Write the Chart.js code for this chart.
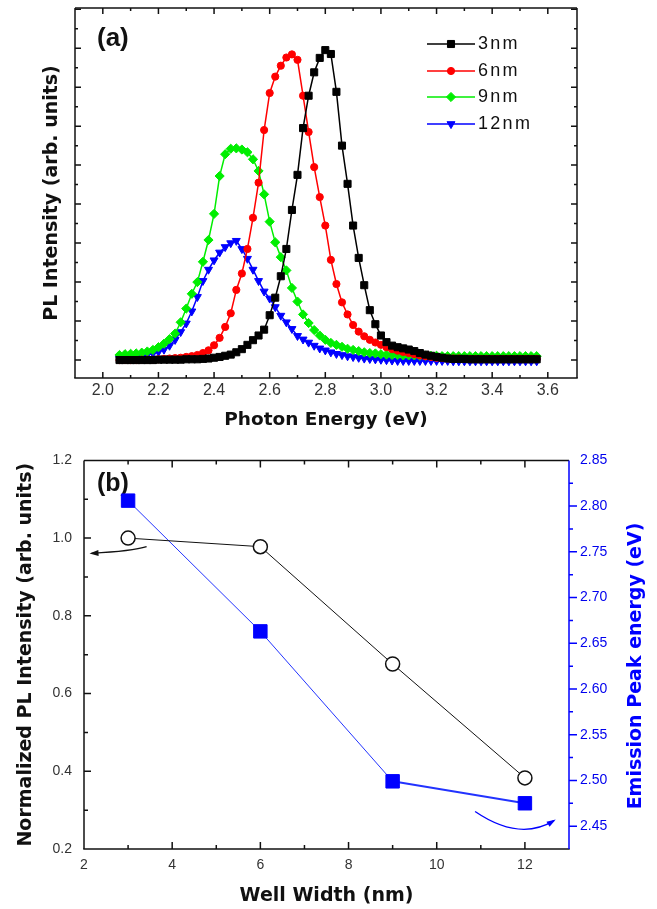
<!DOCTYPE html>
<html>
<head>
<meta charset="utf-8">
<script src="https://cdn.jsdelivr.net/npm/chart.js@4.4.1/dist/chart.umd.min.js"></script>
<style>
    html, body { margin: 0; padding: 0; background: #fff; }
    #wrap { position: relative; width: 657px; height: 909px; }
    canvas { position: absolute; left: 0; }
    #spectraChart { top: 0; }
    #wellChart { top: 440px; }
</style>
</head>
<body>
<div id="wrap">
    <canvas id="spectraChart" width="657" height="440"></canvas>
    <canvas id="wellChart" width="657" height="469"></canvas>
</div>
<script>
// ---- (a) PL spectra ----
const energy = [
    2.06, 2.08, 2.10, 2.12, 2.14, 2.16, 2.18, 2.20, 2.22, 2.24,
    2.26, 2.28, 2.30, 2.32, 2.34, 2.36, 2.38, 2.40, 2.42, 2.44,
    2.46, 2.48, 2.50, 2.52, 2.54, 2.56, 2.58, 2.60, 2.62, 2.64,
    2.66, 2.68, 2.70, 2.72, 2.74, 2.76, 2.78, 2.80, 2.82, 2.84,
    2.86, 2.88, 2.90, 2.92, 2.94, 2.96, 2.98, 3.00, 3.02, 3.04,
    3.06, 3.08, 3.10, 3.12, 3.14, 3.16, 3.18, 3.20, 3.22, 3.24,
    3.26, 3.28, 3.30, 3.32, 3.34, 3.36, 3.38, 3.40, 3.42, 3.44,
    3.46, 3.48, 3.50, 3.52, 3.54, 3.56
];
const pl3nm = [
    0.00, 0.00, 0.00, 0.00, 0.00, 0.00, 0.00, 0.01, 0.01, 0.01,
    0.01, 0.01, 0.02, 0.02, 0.02, 0.03, 0.04, 0.06, 0.08, 0.11,
    0.14, 0.20, 0.28, 0.39, 0.51, 0.63, 0.78, 1.15, 1.60, 2.15,
    2.85, 3.85, 4.75, 5.95, 6.78, 7.38, 7.75, 7.95, 7.85, 6.88,
    5.50, 4.52, 3.45, 2.62, 1.92, 1.28, 0.92, 0.63, 0.46, 0.37,
    0.33, 0.30, 0.27, 0.23, 0.18, 0.14, 0.11, 0.08, 0.06, 0.04,
    0.03, 0.03, 0.03, 0.02, 0.02, 0.02, 0.02, 0.02, 0.02, 0.02,
    0.02, 0.02, 0.02, 0.02, 0.02, 0.02
];
const pl6nm = [
    0.00, 0.00, 0.00, 0.00, 0.01, 0.01, 0.01, 0.02, 0.03, 0.04,
    0.05, 0.06, 0.08, 0.10, 0.13, 0.18, 0.25, 0.38, 0.57, 0.85,
    1.20, 1.80, 2.22, 2.85, 3.65, 4.55, 5.90, 6.85, 7.27, 7.55,
    7.76, 7.84, 7.70, 6.78, 5.85, 4.95, 4.18, 3.45, 2.57, 1.95,
    1.48, 1.17, 0.90, 0.73, 0.61, 0.52, 0.45, 0.39, 0.33, 0.28,
    0.24, 0.21, 0.18, 0.15, 0.12, 0.10, 0.08, 0.06, 0.05, 0.04,
    0.04, 0.04, 0.03, 0.03, 0.03, 0.03, 0.03, 0.03, 0.03, 0.03,
    0.03, 0.03, 0.03, 0.03, 0.03, 0.03
];
const pl9nm = [
    0.13, 0.15, 0.16, 0.17, 0.19, 0.22, 0.26, 0.33, 0.42, 0.54,
    0.68, 0.97, 1.32, 1.70, 2.00, 2.52, 3.08, 3.75, 4.72, 5.28,
    5.42, 5.43, 5.40, 5.33, 5.15, 4.85, 4.25, 3.55, 3.02, 2.64,
    2.30, 1.85, 1.50, 1.17, 0.95, 0.77, 0.63, 0.52, 0.44, 0.39,
    0.34, 0.29, 0.26, 0.23, 0.20, 0.18, 0.17, 0.15, 0.14, 0.13,
    0.13, 0.12, 0.12, 0.12, 0.11, 0.11, 0.11, 0.11, 0.10, 0.10,
    0.10, 0.10, 0.10, 0.10, 0.10, 0.10, 0.10, 0.10, 0.10, 0.10,
    0.10, 0.10, 0.10, 0.10, 0.10, 0.10
];
const pl12nm = [
    0.04, 0.06, 0.08, 0.10, 0.12, 0.14, 0.17, 0.21, 0.27, 0.37,
    0.52, 0.72, 0.94, 1.25, 1.62, 2.03, 2.32, 2.56, 2.76, 2.90,
    3.00, 3.06, 2.85, 2.60, 2.32, 2.03, 1.76, 1.58, 1.36, 1.14,
    0.97, 0.80, 0.62, 0.53, 0.45, 0.37, 0.30, 0.25, 0.20, 0.16,
    0.13, 0.10, 0.08, 0.06, 0.04, 0.03, 0.02, 0.01, 0.00, -0.01,
    -0.02, -0.02, -0.02, -0.02, -0.02, -0.02, -0.02, -0.02, -0.02, -0.02,
    -0.03, -0.03, -0.03, -0.03, -0.03, -0.03, -0.03, -0.03, -0.03, -0.03,
    -0.03, -0.03, -0.03, -0.03, -0.03, -0.03
];
const seriesLabels = ['3nm', '6nm', '9nm', '12nm'];
const energyTicks = [2.0, 2.2, 2.4, 2.6, 2.8, 3.0, 3.2, 3.4, 3.6];
const plTicks = [0, 1, 2, 3, 4, 5, 6, 7, 8, 9];

// ---- (b) well width dependence ----
const wellWidth = [3, 6, 9, 12];
const normIntensity = [1.0, 0.978, 0.676, 0.383];
const peakEnergy = [2.806, 2.663, 2.499, 2.475];
const widthTicks = [2, 4, 6, 8, 10, 12];
const intensityTicks = [0.2, 0.4, 0.6, 0.8, 1.0, 1.2];
const peakTicks = [2.45, 2.50, 2.55, 2.60, 2.65, 2.70, 2.75, 2.80, 2.85];

const FONT = '"Liberation Sans", Arial, sans-serif';
const TITLE_FONT = '"DejaVu Sans", Verdana, sans-serif';

const toPoints = function (xs, ys) {
    return xs.map(function (x, i) { return { x: x, y: ys[i] }; });
};
const fixedTicks = function (values) {
    return function (scale) { scale.ticks = values.map(function (v) { return { value: v }; }); };
};
const fixedWidth = function (w) { return function (scale) { scale.width = w; }; };
const fixedHeight = function (h) { return function (scale) { scale.height = h; }; };

// frame lines plus Origin-style tick marks (majors at the ticks, minors halfway)
const frameTicks = {
    id: 'frameTicks',
    afterDraw(chart, args, opts) {
        const ctx = chart.ctx;
        const a = chart.chartArea;
        ctx.save();
        ctx.lineCap = 'square';
        opts.sides.forEach(function (side) {
            const scale = chart.scales[side.scale];
            const horizontal = side.edge === 'top' || side.edge === 'bottom';
            ctx.strokeStyle = side.color;
            ctx.lineWidth = 1.5;
            ctx.beginPath();
            if (side.edge === 'left') { ctx.moveTo(a.left, a.top); ctx.lineTo(a.left, a.bottom); }
            if (side.edge === 'right') { ctx.moveTo(a.right, a.top); ctx.lineTo(a.right, a.bottom); }
            if (side.edge === 'top') { ctx.moveTo(a.left, a.top); ctx.lineTo(a.right, a.top); }
            if (side.edge === 'bottom') { ctx.moveTo(a.left, a.bottom); ctx.lineTo(a.right, a.bottom); }
            ctx.stroke();

            const majors = scale.ticks.map(function (t) { return t.value; });
            const marks = majors.map(function (v) { return [v, side.major]; });
            for (let i = 0; i < majors.length - 1; i++) {
                marks.push([(majors[i] + majors[i + 1]) / 2, side.minor]);
            }
            const sign = side.outward ? -1 : 1;
            ctx.lineCap = 'butt';
            ctx.beginPath();
            marks.forEach(function (m) {
                const p = scale.getPixelForValue(m[0]);
                if (horizontal && (p < a.left + 1 || p > a.right - 1)) return;
                if (!horizontal && (p < a.top + 1 || p > a.bottom - 1)) return;
                const len = m[1] * sign;
                if (side.edge === 'bottom') { ctx.moveTo(p, a.bottom); ctx.lineTo(p, a.bottom - len); }
                if (side.edge === 'top') { ctx.moveTo(p, a.top); ctx.lineTo(p, a.top + len); }
                if (side.edge === 'left') { ctx.moveTo(a.left, p); ctx.lineTo(a.left + len, p); }
                if (side.edge === 'right') { ctx.moveTo(a.right, p); ctx.lineTo(a.right - len, p); }
            });
            ctx.stroke();
        });
        ctx.restore();
    }
};

// panel letters, the rotated right title and the little curved arrows
const notes = {
    id: 'notes',
    beforeDatasetsDraw(chart, args, opts) {
        const ctx = chart.ctx;
        (opts.texts || []).forEach(function (t) {
            ctx.save();
            ctx.translate(t.x, t.y);
            if (t.rotate) ctx.rotate(t.rotate);
            ctx.font = t.font;
            ctx.fillStyle = t.color;
            ctx.textAlign = t.align || 'left';
            ctx.textBaseline = 'middle';
            ctx.fillText(t.text, 0, 0);
            ctx.restore();
        });
    },
    afterDatasetsDraw(chart, args, opts) {
        const ctx = chart.ctx;
        (opts.arrows || []).forEach(function (arr) {
            const xs = chart.scales.x;
            const ys = chart.scales[arr.yScale];
            const p = arr.pts.map(function (q) { return [xs.getPixelForValue(q[0]), ys.getPixelForValue(q[1])]; });
            // control point so the curve goes through the middle point
            const c = [2 * p[1][0] - (p[0][0] + p[2][0]) / 2, 2 * p[1][1] - (p[0][1] + p[2][1]) / 2];
            ctx.save();
            ctx.strokeStyle = arr.color;
            ctx.fillStyle = arr.color;
            ctx.lineWidth = 1.3;
            ctx.beginPath();
            ctx.moveTo(p[0][0], p[0][1]);
            ctx.quadraticCurveTo(c[0], c[1], p[2][0], p[2][1]);
            ctx.stroke();
            const ang = Math.atan2(p[2][1] - c[1], p[2][0] - c[0]);
            ctx.translate(p[2][0], p[2][1]);
            ctx.rotate(ang);
            ctx.beginPath();
            ctx.moveTo(2, 0);
            ctx.lineTo(-7, -3);
            ctx.lineTo(-7, 3);
            ctx.closePath();
            ctx.fill();
            ctx.restore();
        });
    }
};

// Origin-like legend: short line with the marker in the middle
const lineLegend = {
    id: 'lineLegend',
    afterDraw(chart, args, opts) {
        const ctx = chart.ctx;
        ctx.save();
        chart.data.datasets.forEach(function (ds, i) {
            const y = opts.rows[i];
            ctx.strokeStyle = ds.borderColor;
            ctx.lineWidth = ds.borderWidth;
            ctx.beginPath();
            ctx.moveTo(opts.x0, y);
            ctx.lineTo(opts.x1, y);
            ctx.stroke();
            ctx.fillStyle = ds.pointBackgroundColor;
            ctx.strokeStyle = ds.pointBorderColor;
            ctx.lineWidth = 1;
            Chart.helpers.drawPoint(ctx, {
                pointStyle: ds.pointStyle,
                radius: ds.pointRadius,
                rotation: ds.pointRotation || 0,
                borderWidth: 1
            }, (opts.x0 + opts.x1) / 2, y);
            ctx.fillStyle = '#111';
            ctx.font = opts.font;
            ctx.letterSpacing = opts.spacing;
            ctx.textAlign = 'left';
            ctx.textBaseline = 'middle';
            ctx.fillText(ds.label, opts.textX, y);
            ctx.letterSpacing = '0px';
        });
        ctx.restore();
    }
};

const spectrumStyles = [
    { color: '#000000', style: 'rect', radius: 5, rotation: 0 },
    { color: '#ff0000', style: 'circle', radius: 3.6, rotation: 0 },
    { color: '#00ee00', style: 'rectRot', radius: 4.6, rotation: 0 },
    { color: '#0000ff', style: 'triangle', radius: 4.6, rotation: 180 }
];
const spectra = [pl3nm, pl6nm, pl9nm, pl12nm];

new Chart(document.getElementById('spectraChart'), {
    type: 'line',
    data: {
        datasets: spectra.map(function (values, i) {
            const s = spectrumStyles[i];
            return {
                label: seriesLabels[i],
                data: toPoints(energy, values),
                borderColor: s.color,
                borderWidth: 1.5,
                pointStyle: s.style,
                pointRadius: s.radius,
                pointRotation: s.rotation,
                pointBackgroundColor: s.color,
                pointBorderColor: s.color,
                pointBorderWidth: 1,
                tension: 0,
                fill: false
            };
        })
    },
    options: {
        responsive: false,
        animation: false,
        layout: { padding: { top: 8, right: 80, left: 0, bottom: 0 } },
        plugins: {
            legend: { display: false },
            tooltip: { enabled: false },
            frameTicks: {
                sides: [
                    { scale: 'x', edge: 'bottom', color: '#111', major: 6, minor: 3 },
                    { scale: 'x', edge: 'top', color: '#111', major: 6, minor: 3 },
                    { scale: 'y', edge: 'left', color: '#111', major: 6, minor: 3 },
                    { scale: 'y', edge: 'right', color: '#111', major: 6, minor: 3 }
                ]
            },
            notes: {
                texts: [{ text: '(a)', x: 97, y: 39, font: 'bold 26px ' + FONT, color: '#111' }]
            },
            lineLegend: {
                rows: [44, 71, 97, 124],
                x0: 427, x1: 475, textX: 478,
                font: '18px ' + FONT, spacing: '2.3px'
            }
        },
        scales: {
            x: {
                type: 'linear',
                min: 1.9,
                max: 3.705,
                afterBuildTicks: fixedTicks(energyTicks),
                afterFit: fixedHeight(62),
                grid: { display: false, drawTicks: false },
                border: { display: false },
                ticks: {
                    color: '#333',
                    padding: 3,
                    font: { family: FONT, size: 16 },
                    callback: function (v) { return Number(v).toFixed(1); }
                },
                title: {
                    display: true,
                    text: 'Photon Energy (eV)',
                    color: '#111',
                    padding: { top: 0, bottom: 9 },
                    font: { family: TITLE_FONT, size: 18.5, weight: 'bold' }
                }
            },
            y: {
                type: 'linear',
                min: -0.46,
                max: 9.03,
                afterBuildTicks: fixedTicks(plTicks),
                afterFit: fixedWidth(75),
                grid: { display: false, drawTicks: false },
                border: { display: false },
                ticks: { display: false },
                title: {
                    display: true,
                    text: 'PL Intensity (arb. units)',
                    color: '#111',
                    padding: { top: 41, bottom: 0 },
                    font: { family: TITLE_FONT, size: 19, weight: 'bold' }
                }
            }
        }
    },
    plugins: [frameTicks, notes, lineLegend]
});

new Chart(document.getElementById('wellChart'), {
    type: 'line',
    data: {
        datasets: [{
            label: 'Normalized PL Intensity',
            data: toPoints(wellWidth, normIntensity),
            yAxisID: 'y',
            borderColor: '#111',
            borderWidth: 1,
            pointStyle: 'circle',
            pointRadius: 7,
            pointBackgroundColor: '#ffffff',
            pointBorderColor: '#111',
            pointBorderWidth: 1.5,
            tension: 0
        }, {
            label: 'Emission Peak energy',
            data: toPoints(wellWidth, peakEnergy),
            yAxisID: 'y2',
            borderColor: '#2233ff',
            borderWidth: 1,
            segment: {
                borderWidth: function (ctx) { return ctx.p0DataIndex === 2 ? 2 : 1; }
            },
            pointStyle: 'rect',
            pointRadius: 9.5,
            pointBackgroundColor: '#0000ff',
            pointBorderColor: '#0000ff',
            pointBorderWidth: 1,
            tension: 0
        }]
    },
    options: {
        responsive: false,
        animation: false,
        layout: { padding: { top: 14, right: 0, left: 0, bottom: 0 } },
        plugins: {
            legend: { display: false },
            tooltip: { enabled: false },
            frameTicks: {
                sides: [
                    { scale: 'x', edge: 'bottom', color: '#111', major: 7, minor: 4 },
                    { scale: 'x', edge: 'top', color: '#111', major: 7, minor: 4 },
                    { scale: 'y', edge: 'left', color: '#111', major: 7, minor: 4 },
                    { scale: 'y2', edge: 'right', color: '#0000ff', major: 8, minor: 4, outward: true }
                ]
            },
            notes: {
                texts: [
                    { text: '(b)', x: 97, y: 44, font: 'bold 25px ' + FONT, color: '#111' },
                    { text: 'Emission Peak energy (eV)', x: 636, y: 226, rotate: -Math.PI / 2, align: 'center',
                      font: 'bold 19px ' + TITLE_FONT, color: '#0000ff' }
                ],
                arrows: [
                    { yScale: 'y', color: '#111', pts: [[3.42, 0.978], [2.95, 0.968], [2.17, 0.961]] },
                    { yScale: 'y2', color: '#0000ff', pts: [[10.87, 2.466], [11.82, 2.447], [12.66, 2.456]] }
                ]
            }
        },
        scales: {
            x: {
                type: 'linear',
                min: 2,
                max: 13,
                afterBuildTicks: fixedTicks(widthTicks),
                afterFit: fixedHeight(60),
                grid: { display: false, drawTicks: false },
                border: { display: false },
                ticks: {
                    color: '#333',
                    padding: 8,
                    font: { family: FONT, size: 14 }
                },
                title: {
                    display: true,
                    text: 'Well Width (nm)',
                    color: '#111',
                    padding: { top: 0, bottom: 2 },
                    font: { family: TITLE_FONT, size: 19, weight: 'bold' }
                }
            },
            y: {
                type: 'linear',
                position: 'left',
                min: 0.2,
                max: 1.2,
                afterBuildTicks: fixedTicks(intensityTicks),
                afterFit: fixedWidth(84),
                grid: { display: false, drawTicks: false },
                border: { display: false },
                ticks: {
                    color: '#333',
                    padding: 12,
                    font: { family: FONT, size: 14 },
                    callback: function (v) { return Number(v).toFixed(1); }
                },
                title: {
                    display: true,
                    text: 'Normalized PL Intensity (arb. units)',
                    color: '#111',
                    padding: { top: 15, bottom: 0 },
                    font: { family: TITLE_FONT, size: 19, weight: 'bold' }
                }
            },
            y2: {
                type: 'linear',
                position: 'right',
                min: 2.425,
                max: 2.85,
                afterBuildTicks: fixedTicks(peakTicks),
                afterFit: fixedWidth(88),
                grid: { display: false, drawTicks: false },
                border: { display: false },
                ticks: {
                    color: '#0000ee',
                    padding: 11,
                    font: { family: FONT, size: 14 },
                    callback: function (v) { return Number(v).toFixed(2); }
                }
            }
        }
    },
    plugins: [frameTicks, notes]
});
</script>
</body>
</html>
